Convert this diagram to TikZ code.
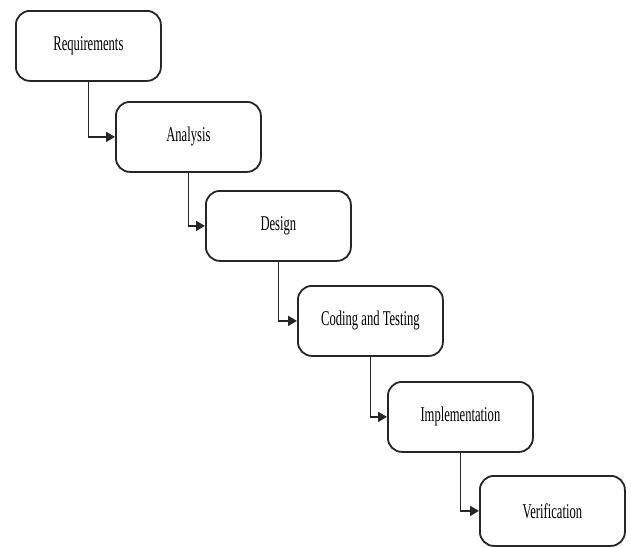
\documentclass[tikz,border=0pt]{standalone}
\usepackage{fontspec}
\setmainfont{Liberation Serif}
\usetikzlibrary{arrows.meta}
\tikzset{
  phase/.style={draw=black!85, line width=1.8pt, rounded corners=14pt, fill=white,
    minimum width=145pt, minimum height=70pt, inner sep=0pt, anchor=north west},
  flow/.style={draw=black!85, line width=1.8pt, -{Triangle[length=9pt,width=10pt]}},
}
\newcommand{\lbl}[1]{\scalebox{0.6}[1]{\fontsize{21}{24}\selectfont #1}}
\begin{document}
\begin{tikzpicture}[x=1pt,y=-1pt]
\useasboundingbox (0,0) rectangle (631,546);
\node[phase] (req) at (15,10) {\lbl{Requirements}};
\node[phase] (ana) at (115,101) {\lbl{Analysis}};
\node[phase] (des) at (205,190) {\lbl{Design}};
\node[phase] (cod) at (297,285) {\lbl{Coding and Testing}};
\node[phase] (imp) at (387,381) {\lbl{Implementation}};
\node[phase] (ver) at (479,475) {\lbl{Verification}};
\draw[flow] (req.south) |- (ana.west);
\draw[flow] (ana.south) |- (des.west);
\draw[flow] (des.south) |- (cod.west);
\draw[flow] (cod.south) |- (imp.west);
\draw[flow] (imp.south) |- (ver.west);
\end{tikzpicture}
\end{document}
